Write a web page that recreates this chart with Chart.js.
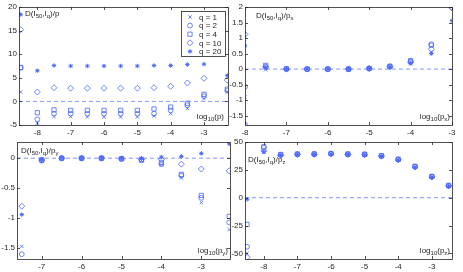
<!DOCTYPE html>
<html>
<head>
<meta charset="utf-8">
<script src="https://cdn.jsdelivr.net/npm/chart.js@4.4.1/dist/chart.umd.min.js"></script>
<style>
  body { margin: 0; background: #fff; width: 463px; height: 272px; overflow: hidden; position: relative; }
  canvas { position: absolute; left: 0; top: 0; }
</style>
</head>
<body>
<canvas id="pp" width="463" height="272"></canvas>
<canvas id="px" width="463" height="272"></canvas>
<canvas id="py" width="463" height="272"></canvas>
<canvas id="pz" width="463" height="272"></canvas>
<script>
// DATA
const qLabels = ['q = 1', 'q = 2', 'q = 4', 'q = 10', 'q = 20'];

// D(I50,Iq)/p  vs log10(p)
const xP = [-8.5, -8, -7.5, -7, -6.5, -6, -5.5, -5, -4.5, -4, -3.5, -3, -2.3];
const pQ1  = [2.0, -4.6, -3.2, -3.2, -3.3, -3.3, -3.3, -3.3, -3.1, -2.6, -1.5, 0.6, 2.0];
const pQ2  = [7.1, -3.8, -2.6, -2.6, -2.6, -2.6, -2.6, -2.6, -2.6, -1.9, -0.8, 1.1, 2.3];
const pQ4  = [7.2, -2.4, -1.8, -1.9, -1.9, -1.9, -1.9, -1.9, -1.6, -1.2, -0.4, 1.5, 2.6];
const pQ10 = [15.2, 2.0, 2.9, 2.8, 2.8, 2.8, 2.8, 2.8, 2.9, 3.2, 3.9, 4.9, 4.5];
const pQ20 = [18.4, 6.5, 7.6, 7.5, 7.5, 7.5, 7.5, 7.5, 7.6, 7.6, 7.8, 7.9, 5.5];
const pXTicks = [-8, -7, -6, -5, -4, -3];
const pYTicks = [-5, 0, 5, 10, 15, 20];

// D(I50,Iq)/px  vs log10(px)
const xPx = [-8, -7.5, -7, -6.5, -6, -5.5, -5, -4.5, -4, -3.5, -3];
const pxQ1  = [-0.9, -0.02, 0, 0, 0, 0, 0.02, 0.08, 0.17, 0.55, null];
const pxQ2  = [-0.57, 0.06, 0, 0, 0, 0, 0.02, 0.08, 0.25, 0.8, 1.98];
const pxQ4  = [-1.8, 0.12, 0.01, 0, 0, 0, 0.02, 0.09, 0.27, 0.77, null];
const pxQ10 = [1.12, 0.08, 0, 0, 0, 0, 0.02, 0.08, 0.22, 0.64, 1.97];
const pxQ20 = [0.75, 0.05, 0, 0, 0, 0, 0.02, 0.07, 0.2, 0.5, 1.56];
const pxXTicks = [-8, -7, -6, -5, -4, -3];
const pxYTicks = [-1.5, -1, -0.5, 0, 0.5, 1, 1.5, 2];

// D(I50,Iq)/py  vs log10(py)
const xPy = [-7.5, -7, -6.5, -6, -5.5, -5, -4.5, -4, -3.5, -3, -2.3];
const pyQ1  = [-1.47, -0.05, 0, 0, 0, -0.01, -0.04, -0.11, -0.33, -0.74, -1.19];
const pyQ2  = [-1.6, -0.04, 0, 0, 0, -0.01, -0.03, -0.1, -0.29, -0.66, -1.07];
const pyQ4  = [null, -0.03, 0, 0, 0, -0.01, -0.03, -0.07, -0.27, -0.62, -0.97];
const pyQ10 = [-0.8, -0.03, 0, 0, 0, -0.01, -0.02, -0.02, -0.1, -0.18, -0.21];
const pyQ20 = [-0.94, -0.02, 0, 0, 0, 0, 0, 0.02, 0.03, 0.08, 0.24];
const pyXTicks = [-7, -6, -5, -4, -3];
const pyYTicks = [-1.5, -1, -0.5, 0];

// D(I50,Iq)/pz  vs log10(pz)
const xPz = [-8.5, -8, -7.5, -7, -6.5, -6, -5.5, -5, -4.5, -4, -3.5, -3, -2.5];
const pzQ1  = [-50, 41, 38, 39, 39, 39.5, 39, 38.5, 37, 34, 27.5, 18.5, 10.5];
const pzQ2  = [-44, 44.8, 38.5, 39, 39, 39.5, 39, 38.8, 37.6, 34.3, 27.8, 18.8, 10.7];
const pzQ4  = [-24, 45.7, 38.8, 39.2, 39.3, 39.7, 39.2, 39, 37.8, 34.5, 28.2, 19.2, 11];
const pzQ10 = [-53.5, 42, 38.2, 38.8, 39, 39.3, 38.8, 38.6, 37.3, 34, 27.6, 18.6, 10.6];
const pzQ20 = [-1.5, 41.2, 38, 38.6, 38.8, 39.2, 38.6, 38.4, 37, 33.8, 27.3, 18.3, 10.3];
const pzXTicks = [-8, -7, -6, -5, -4, -3];
const pzYTicks = [-50, -25, 0, 25, 50];

// STYLE
const BLUE = '#4a66ff';
const INK = '#262626';
const FONT = '"Liberation Sans", Arial, sans-serif';
const markers = [
  { pointStyle: 'crossRot', pointRadius: 2.3, borderWidth: 0.8 },
  { pointStyle: 'circle',   pointRadius: 2.4, borderWidth: 0.8 },
  { pointStyle: 'rect',     pointRadius: 3,   borderWidth: 0.8 },
  { pointStyle: 'rectRot',  pointRadius: 3,   borderWidth: 0.8 },
  { pointStyle: 'star',     pointRadius: 2.2, borderWidth: 1 }
];

// draw text with subscripts, parts = [[text, isSub], ...]
function richText(ctx, parts, x, y, size) {
  ctx.save();
  ctx.fillStyle = INK;
  ctx.textBaseline = 'alphabetic';
  ctx.textAlign = 'left';
  parts.forEach(function (p) {
    ctx.font = (p[1] ? size * 0.75 : size) + 'px ' + FONT;
    ctx.fillText(p[0], x, y + (p[1] ? size * 0.3 : 0));
    x += ctx.measureText(p[0]).width;
  });
  ctx.restore();
}
function richWidth(ctx, parts, size) {
  let w = 0;
  parts.forEach(function (p) {
    ctx.font = (p[1] ? size * 0.75 : size) + 'px ' + FONT;
    w += ctx.measureText(p[0]).width;
  });
  return w;
}

// box, inward ticks, labels inside the axes
const framePlugin = {
  id: 'frame',
  afterDraw(chart) {
    const o = chart.options.plugins.frame;
    const a = chart.chartArea;
    const ctx = chart.ctx;
    const xs = chart.scales.x, ys = chart.scales.y;
    ctx.save();
    ctx.strokeStyle = INK;
    ctx.lineWidth = 0.8;
    ctx.strokeRect(Math.round(a.left) + 0.5, Math.round(a.top) + 0.5,
      Math.round(a.right - a.left), Math.round(a.bottom - a.top));
    ctx.beginPath();
    o.xTicks.forEach(function (v) {
      const px = Math.round(xs.getPixelForValue(v)) + 0.5;
      ctx.moveTo(px, a.bottom); ctx.lineTo(px, a.bottom - 3);
      ctx.moveTo(px, a.top); ctx.lineTo(px, a.top + 3);
    });
    o.yTicks.forEach(function (v) {
      const py = Math.round(ys.getPixelForValue(v)) + 0.5;
      ctx.moveTo(a.left, py); ctx.lineTo(a.left + 3, py);
      ctx.moveTo(a.right, py); ctx.lineTo(a.right - 3, py);
    });
    ctx.stroke();
    ctx.restore();

    richText(ctx, o.ylabel, a.left + o.ylabelPos[0], a.top + o.ylabelPos[1], 8);
    const w = richWidth(ctx, o.xlabel, 8);
    richText(ctx, o.xlabel, a.right - w - o.xlabelPos[0], a.bottom - o.xlabelPos[1], 8);

    if (o.legend) {
      const L = o.legend;
      ctx.save();
      ctx.fillStyle = '#fff';
      ctx.fillRect(L.x, L.y, L.w, L.h);
      ctx.strokeStyle = INK;
      ctx.lineWidth = 0.8;
      ctx.strokeRect(L.x + 0.5, L.y + 0.5, L.w, L.h);
      chart.data.datasets.forEach(function (ds, i) {
        if (ds.label === undefined) return;
        const cy = L.y + 6 + i * 8.6;
        ctx.strokeStyle = BLUE;
        ctx.fillStyle = ds.pointStyle === 'star' ? BLUE : 'rgba(0,0,0,0)';
        ctx.lineWidth = ds.borderWidth;
        Chart.helpers.drawPoint(ctx, { pointStyle: ds.pointStyle, radius: ds.pointRadius, borderWidth: ds.borderWidth, rotation: 0 }, L.x + 9, cy);
        ctx.fillStyle = INK;
        ctx.font = '8px ' + FONT;
        ctx.textBaseline = 'middle';
        ctx.fillText(ds.label, L.x + 18, cy + 0.5);
      });
      ctx.restore();
    }
  }
};

function buildDatasets(xs, series, withLabels) {
  const sets = series.map(function (vals, i) {
    const ds = Object.assign({
      type: 'scatter',
      data: xs.map(function (x, k) { return { x: x, y: vals[k] }; }),
      borderColor: BLUE,
      backgroundColor: i === 4 ? BLUE : 'rgba(0,0,0,0)',
      order: 5 - i
    }, markers[i]);
    if (withLabels) ds.label = qLabels[i];
    return ds;
  });
  return sets;
}

function makePanel(id, p) {
  const datasets = buildDatasets(p.xs, p.series, !!p.legend);
  datasets.push({
    type: 'line',
    data: [{ x: p.xmin, y: 0 }, { x: p.xmax, y: 0 }],
    borderColor: '#8196ff',
    borderWidth: 1,
    borderDash: [4, 3],
    pointRadius: 0,
    order: 20
  });
  new Chart(document.getElementById(id), {
    type: 'scatter',
    data: { datasets: datasets },
    plugins: [framePlugin],
    options: {
      responsive: false,
      animation: false,
      devicePixelRatio: 1,
      layout: { padding: { left: 0, top: p.area[1], right: 463 - p.area[2], bottom: 0 } },
      plugins: {
        legend: { display: false },
        tooltip: { enabled: false },
        frame: {
          xTicks: p.xTicks, yTicks: p.yTicks,
          ylabel: p.ylabel, ylabelPos: p.ylabelPos,
          xlabel: p.xlabel, xlabelPos: p.xlabelPos,
          legend: p.legend
        }
      },
      scales: {
        x: {
          type: 'linear', min: p.xmin, max: p.xmax,
          grid: { display: false, drawTicks: false },
          border: { display: false },
          afterFit: function (s) { s.height = 272 - p.area[3]; },
          afterBuildTicks: function (s) { s.ticks = p.xTicks.map(function (v) { return { value: v }; }); },
          ticks: { color: INK, font: { family: FONT, size: 8 }, padding: 3, maxRotation: 0,
                   callback: function (v) { return String(v); } }
        },
        y: {
          type: 'linear', min: p.ymin, max: p.ymax,
          grid: { display: false, drawTicks: false },
          border: { display: false },
          afterFit: function (s) { s.width = p.area[0]; },
          afterBuildTicks: function (s) { s.ticks = p.yTicks.map(function (v) { return { value: v }; }); },
          ticks: { color: INK, font: { family: FONT, size: 8 }, padding: 2,
                   callback: function (v) { return String(v); } }
        }
      }
    }
  });
}

makePanel('pp', {
  area: [19, 7, 228, 125],
  xmin: -8.55, xmax: -2.28, ymin: -5, ymax: 20,
  xs: xP, series: [pQ1, pQ2, pQ4, pQ10, pQ20],
  xTicks: pXTicks, yTicks: pYTicks,
  ylabel: [['D(I', 0], ['50', 1], [',I', 0], ['q', 1], [')/p', 0]], ylabelPos: [6, 9],
  xlabel: [['log', 0], ['10', 1], ['(p)', 0]], xlabelPos: [4, 6],
  legend: { x: 181, y: 11, w: 44, h: 45 }
});
makePanel('px', {
  area: [245, 7, 452, 125],
  xmin: -8, xmax: -3, ymin: -1.8, ymax: 2,
  xs: xPx, series: [pxQ1, pxQ2, pxQ4, pxQ10, pxQ20],
  xTicks: pxXTicks, yTicks: pxYTicks,
  ylabel: [['D(I', 0], ['50', 1], [',I', 0], ['q', 1], [')/p', 0], ['x', 1]], ylabelPos: [11, 11],
  xlabel: [['log', 0], ['10', 1], ['(p', 0], ['x', 1], [')', 0]], xlabelPos: [2, 6]
});
makePanel('py', {
  area: [17, 142, 230, 259],
  xmin: -7.62, xmax: -2.28, ymin: -1.68, ymax: 0.27,
  xs: xPy, series: [pyQ1, pyQ2, pyQ4, pyQ10, pyQ20],
  xTicks: pyXTicks, yTicks: pyYTicks,
  ylabel: [['D(I', 0], ['50', 1], [',I', 0], ['q', 1], [')/p', 0], ['y', 1]], ylabelPos: [4, 11],
  xlabel: [['log', 0], ['10', 1], ['(p', 0], ['y', 1], [')', 0]], xlabelPos: [2, 6]
});
makePanel('pz', {
  area: [245, 142, 452, 259],
  xmin: -8.56, xmax: -2.4, ymin: -55, ymax: 50,
  xs: xPz, series: [pzQ1, pzQ2, pzQ4, pzQ10, pzQ20],
  xTicks: pzXTicks, yTicks: pzYTicks,
  ylabel: [['D(I', 0], ['50', 1], [',I', 0], ['q', 1], [')/p', 0], ['z', 1]], ylabelPos: [3, 20],
  xlabel: [['log', 0], ['10', 1], ['(p', 0], ['z', 1], [')', 0]], xlabelPos: [2, 6]
});
</script>
</body>
</html>
